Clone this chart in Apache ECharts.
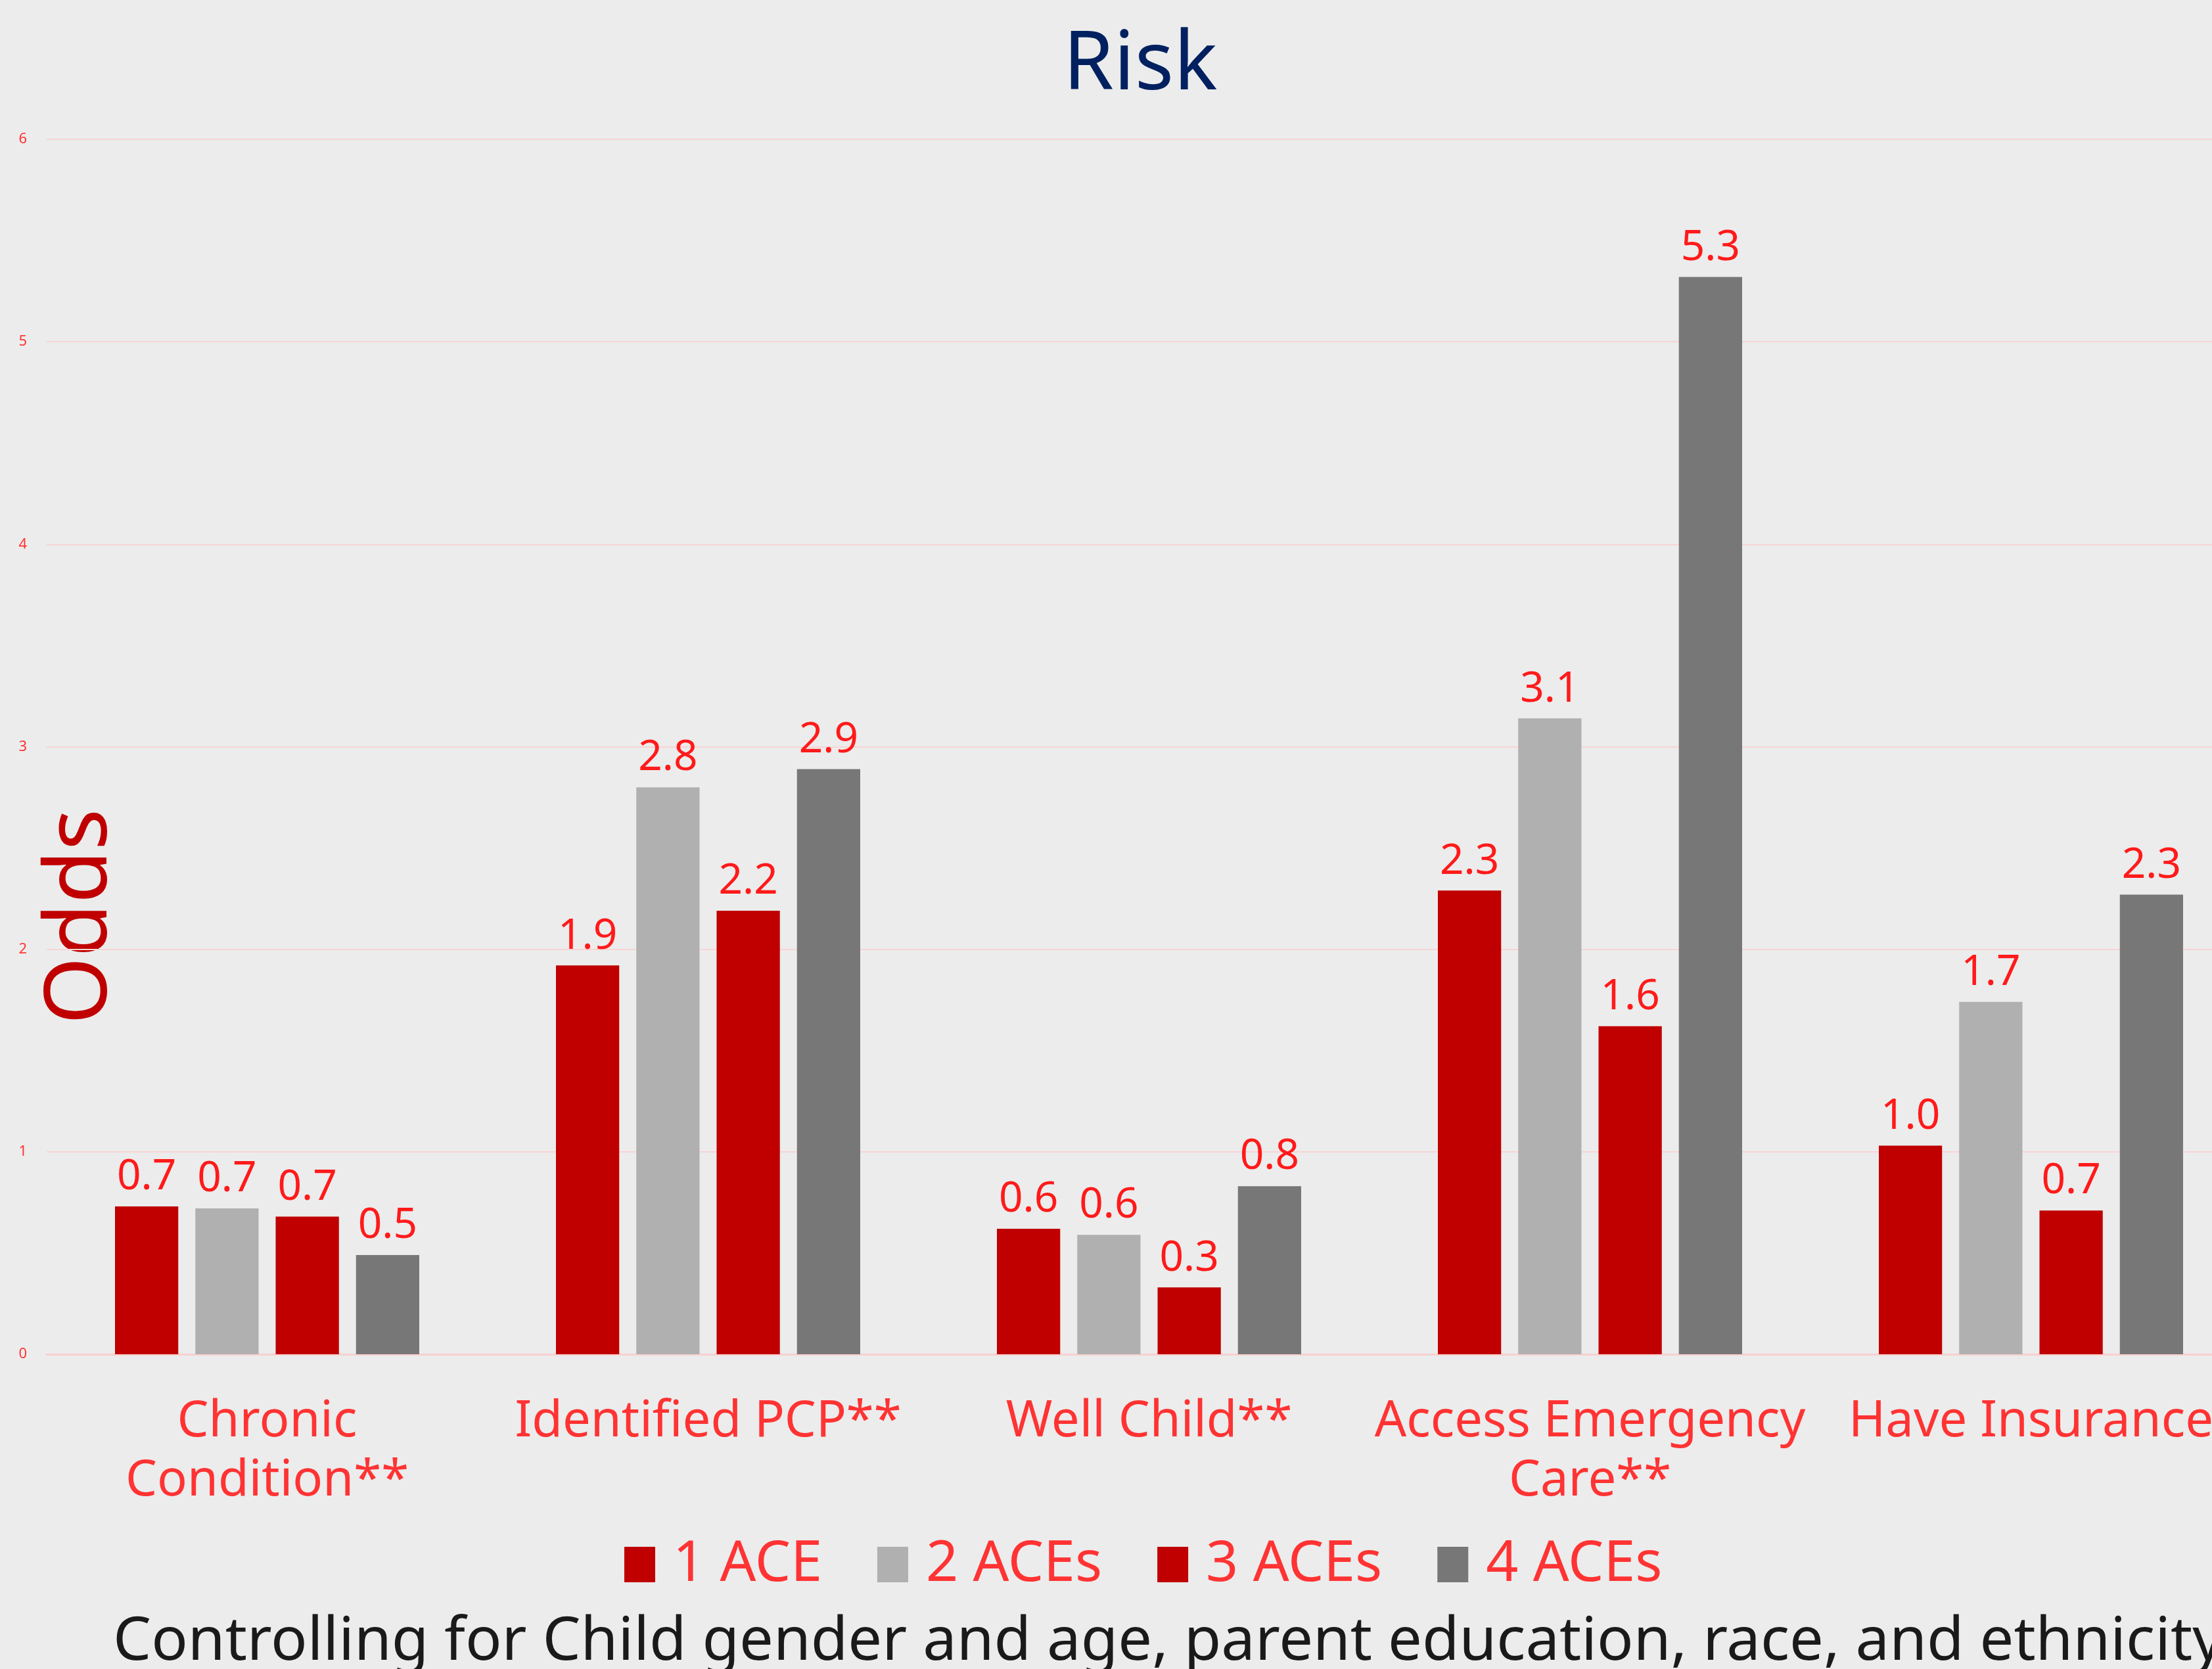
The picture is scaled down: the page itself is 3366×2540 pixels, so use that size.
<!DOCTYPE html>
<html lang="en">
<head>
    <meta charset="UTF-8">
    <title>Risk</title>
    <script type="text/javascript" src="https://cdn.jsdelivr.net/npm/echarts@6/dist/echarts.min.js"></script>
    <style>
        html, body { margin: 0; padding: 0; background: #ececec; overflow: hidden; }
        /* the slide is wider than the picture: its right side is cut off */
        #main { width: 3426px; height: 2540px; }
    </style>
</head>
<body>
<div id="main"></div>
<script type="text/javascript">
    var categories = ['Chronic\nCondition**', 'Identified PCP**', 'Well Child**', 'Access Emergency\nCare**', 'Have Insurance'];
    var seriesNames = ['1 ACE', '2 ACEs', '3 ACEs', '4 ACEs'];
    var ace1 = [0.73, 1.92, 0.62, 2.29, 1.03];
    var ace2 = [0.72, 2.80, 0.59, 3.14, 1.74];
    var ace3 = [0.68, 2.19, 0.33, 1.62, 0.71];
    var ace4 = [0.49, 2.89, 0.83, 5.32, 2.27];
    var yTicks = [0, 1, 2, 3, 4, 5, 6];

    var colors = ['#c00000', '#b0b0b0', '#c00000', '#777777'];
    var values = [ace1, ace2, ace3, ace4];

    var myChart = echarts.init(document.getElementById('main'));

    var series = [];
    for (var i = 0; i < seriesNames.length; i++) {
        series.push({
            name: seriesNames[i],
            type: 'bar',
            data: values[i],
            barGap: '27%',
            barCategoryGap: '31%',
            itemStyle: { color: colors[i] },
            label: {
                show: true,
                position: 'top',
                distance: 12,
                color: '#ff1a1a',
                fontFamily: 'Noto Sans',
                fontSize: 64,
                formatter: function (p) { return p.value.toFixed(1); }
            }
        });
    }

    var option = {
        backgroundColor: '#ececec',
        animation: false,
        title: {
            text: 'Risk',
            left: 1730,
            top: 34,
            textAlign: 'center',
            textStyle: { color: '#002060', fontFamily: 'Noto Sans', fontWeight: 'normal', fontSize: 124 }
        },
        legend: {
            data: seriesNames,
            left: 945,
            top: 2333,
            itemWidth: 47,
            itemHeight: 54,
            itemGap: 84,
            icon: 'rect',
            textStyle: { color: '#ff3333', fontFamily: 'Noto Sans', fontSize: 86, padding: [0, 0, 0, 22] }
        },
        grid: { left: 71, right: 0, top: 212, bottom: 479, containLabel: false },
        xAxis: {
            type: 'category',
            data: categories,
            axisLine: { show: true, lineStyle: { color: '#f8d0d0', width: 3 } },
            axisTick: { show: false },
            axisLabel: {
                color: '#ff3333',
                fontFamily: 'Noto Sans',
                fontSize: 76,
                lineHeight: 90,
                margin: 58,
                interval: 0
            }
        },
        yAxis: {
            type: 'value',
            min: yTicks[0],
            max: yTicks[yTicks.length - 1],
            interval: 1,
            axisLine: { show: false },
            axisTick: { show: false },
            splitLine: { lineStyle: { color: '#f8d4d4', width: 2 } },
            axisLabel: { color: '#ff3333', fontFamily: 'Noto Sans', fontSize: 22, margin: 30 }
        },
        graphic: [
            {
                type: 'text',
                x: 124,
                y: 1395,
                rotation: Math.PI / 2,
                style: {
                    text: 'Odds',
                    fill: '#c00000',
                    font: '132px "Noto Sans"',
                    align: 'center',
                    verticalAlign: 'middle'
                }
            },
            {
                type: 'text',
                x: 172,
                y: 2500,
                style: {
                    text: 'Controlling for Child gender and age, parent education, race, and ethnicity',
                    fill: '#1a1a1a',
                    font: '92px "Noto Sans"',
                    align: 'left',
                    verticalAlign: 'middle'
                }
            }
        ],
        series: series
    };
    myChart.setOption(option);
</script>
</body>
</html>
